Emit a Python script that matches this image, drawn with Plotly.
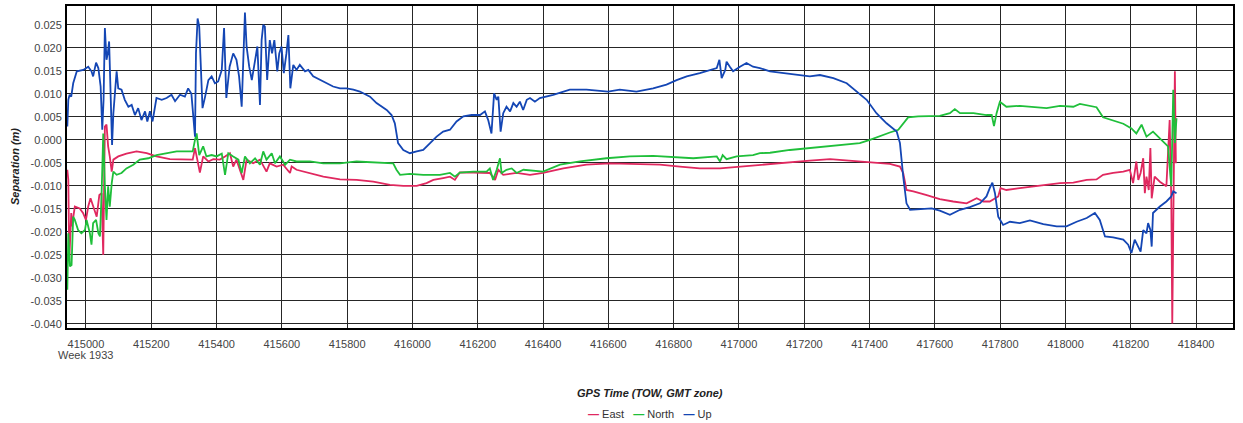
import plotly.graph_objects as go

# GPS time of week (s) and separation (m)
up_t = [414943, 414946, 414950, 414955, 414961, 414972, 414992, 415007, 415017, 415022,
        415031, 415038, 415045, 415050, 415054, 415058, 415063, 415067, 415071, 415075,
        415080, 415084, 415089, 415094, 415099, 415109, 415119, 415130, 415140, 415150,
        415160, 415170, 415181, 415188, 415196, 415204, 415216, 415232, 415247, 415262,
        415273, 415288, 415303, 415313, 415323, 415331, 415334, 415337, 415342, 415347,
        415352, 415357, 415365, 415375, 415385, 415395, 415405, 415416, 415423, 415430,
        415440, 415451, 415461, 415469, 415477, 415482, 415487, 415492, 415500, 415508,
        415516, 415525, 415533, 415538, 415543, 415548, 415555, 415563, 415570, 415577,
        415586, 415592, 415599, 415606, 415614, 415620, 415626, 415635, 415645, 415655,
        415671, 415681, 415696, 415717, 415737, 415757, 415778, 415798, 415819, 415839,
        415870, 415890, 415921, 415936, 415946, 415956, 415972, 415992, 416013, 416033,
        416054, 416074, 416094, 416115, 416135, 416156, 416181, 416207, 416222, 416232,
        416242, 416250, 416258, 416263, 416270, 416278, 416288, 416299, 416309, 416319,
        416329, 416339, 416350, 416360, 416375, 416390, 416431, 416482, 416533, 416599,
        416635, 416686, 416737, 416778, 416809, 416840, 416880, 416911, 416932, 416940,
        416947, 416958, 416962, 416972, 416982, 417003, 417023, 417043, 417064, 417095,
        417136, 417187, 417217, 417248, 417289, 417330, 417360, 417391, 417421, 417452,
        417483, 417493, 417503, 417513, 417524, 417554, 417590, 417615, 417646, 417677,
        417707, 417738, 417758, 417768, 417776, 417784, 417794, 417809, 417830, 417860,
        417891, 417932, 417973, 418003, 418034, 418065, 418090, 418105, 418121, 418146,
        418177, 418192, 418202, 418212, 418223, 418230, 418238, 418248, 418253, 418260,
        418264, 418268, 418289, 418309, 418324, 418330, 418340]
up_v = [0.0029, 0.0087, 0.0098, 0.0094, 0.0123, 0.0149, 0.0152, 0.0159, 0.0149, 0.0138,
        0.0168, 0.0156, 0.0116, 0.0022, 0.0087, 0.0243, 0.0174, 0.0188, 0.0214, 0.0087,
        -0.0011, 0.0058, 0.0112, 0.0149, 0.0112, 0.0109, 0.0087, 0.0072, 0.0076, 0.0054,
        0.0069, 0.0043, 0.0062, 0.0040, 0.0062, 0.0040, 0.0091, 0.0087, 0.0091, 0.0098,
        0.0084, 0.0098, 0.0094, 0.0112, 0.0100, 0.0036, 0.0007, 0.0188, 0.0264, 0.0246,
        0.0159, 0.0069, 0.0094, 0.0130, 0.0138, 0.0123, 0.0127, 0.0152, 0.0243, 0.0091,
        0.0159, 0.0188, 0.0174, 0.0138, 0.0072, 0.0159, 0.0277, 0.0203, 0.0159, 0.0130,
        0.0167, 0.0203, 0.0076, 0.0217, 0.0250, 0.0246, 0.0130, 0.0217, 0.0188, 0.0217,
        0.0149, 0.0188, 0.0203, 0.0145, 0.0188, 0.0228, 0.0112, 0.0163, 0.0152, 0.0163,
        0.0149, 0.0152, 0.0138, 0.0130, 0.0123, 0.0116, 0.0112, 0.0112, 0.0109, 0.0105,
        0.0094, 0.0080, 0.0065, 0.0054, 0.0036, -0.0007, -0.0022, -0.0029, -0.0025, -0.0022,
        -0.0007, 0.0007, 0.0018, 0.0022, 0.0040, 0.0051, 0.0054, 0.0054, 0.0062, 0.0043,
        0.0014, 0.0101, 0.0087, 0.0094, 0.0018, 0.0058, 0.0072, 0.0062, 0.0080, 0.0072,
        0.0083, 0.0065, 0.0087, 0.0091, 0.0083, 0.0091, 0.0098, 0.0109, 0.0109, 0.0105,
        0.0109, 0.0105, 0.0112, 0.0120, 0.0130, 0.0138, 0.0145, 0.0152, 0.0156, 0.0174,
        0.0134, 0.0152, 0.0170, 0.0159, 0.0149, 0.0159, 0.0167, 0.0159, 0.0156, 0.0149,
        0.0145, 0.0141, 0.0138, 0.0141, 0.0134, 0.0123, 0.0105, 0.0087, 0.0058, 0.0036,
        0.0018, -0.0007, -0.0080, -0.0138, -0.0152, -0.0151, -0.0149, -0.0154, -0.0163, -0.0152,
        -0.0146, -0.0138, -0.0123, -0.0105, -0.0093, -0.0116, -0.0167, -0.0185, -0.0178, -0.0181,
        -0.0175, -0.0183, -0.0188, -0.0188, -0.0178, -0.0170, -0.0159, -0.0174, -0.0210, -0.0212,
        -0.0217, -0.0228, -0.0246, -0.0217, -0.0232, -0.0243, -0.0196, -0.0203, -0.0181, -0.0196,
        -0.0232, -0.0159, -0.0145, -0.0134, -0.0123, -0.0112, -0.0116]

north_t = [414943, 414946, 414951, 414956, 414961, 414966, 414976, 414986, 414997, 415002,
           415012, 415017, 415022, 415031, 415038, 415043, 415048, 415053, 415058, 415063,
           415068, 415073, 415079, 415084, 415094, 415109, 415124, 415145, 415165, 415191,
           415216, 415247, 415278, 415308, 415327, 415334, 415339, 415347, 415359, 415369,
           415385, 415400, 415416, 415426, 415436, 415451, 415467, 415477, 415487, 415502,
           415518, 415533, 415543, 415553, 415569, 415579, 415594, 415610, 415625, 415645,
           415686, 415727, 415778, 415829, 415880, 415941, 415951, 415962, 415992, 416033,
           416084, 416115, 416130, 416145, 416186, 416227, 416237, 416247, 416258, 416268,
           416273, 416288, 416304, 416319, 416340, 416360, 416400, 416452, 416513, 416594,
           416666, 416737, 416799, 416860, 416932, 416942, 416950, 416962, 416993, 417043,
           417064, 417095, 417156, 417217, 417279, 417330, 417370, 417401, 417432, 417462,
           417488, 417503, 417518, 417549, 417615, 417646, 417661, 417677, 417718, 417758,
           417774, 417781, 417789, 417799, 417819, 417860, 417901, 417942, 417983, 418024,
           418044, 418075, 418095, 418115, 418146, 418177, 418202, 418217, 418233, 418248,
           418268, 418289, 418314, 418324, 418330, 418335, 418340]
north_v = [-0.0326, -0.0203, -0.0275, -0.0272, -0.0167, -0.0174, -0.0196, -0.0203, -0.0196, -0.0174,
           -0.0203, -0.0228, -0.0181, -0.0174, -0.0203, -0.0210, -0.0116, 0.0014, -0.0101, -0.0174,
           -0.0101, -0.0145, -0.0094, -0.0069, -0.0076, -0.0072, -0.0062, -0.0054, -0.0043, -0.0040,
           -0.0033, -0.0029, -0.0025, -0.0025, -0.0025, 0.0000, 0.0014, -0.0033, -0.0014, -0.0036,
           -0.0033, -0.0036, -0.0030, -0.0076, -0.0029, -0.0036, -0.0043, -0.0072, -0.0036, -0.0051,
           -0.0040, -0.0054, -0.0025, -0.0043, -0.0029, -0.0051, -0.0036, -0.0054, -0.0043, -0.0047,
           -0.0047, -0.0051, -0.0051, -0.0047, -0.0049, -0.0051, -0.0065, -0.0076, -0.0074, -0.0076,
           -0.0076, -0.0072, -0.0080, -0.0071, -0.0069, -0.0069, -0.0062, -0.0087, -0.0065, -0.0040,
           -0.0072, -0.0065, -0.0062, -0.0072, -0.0065, -0.0066, -0.0069, -0.0054, -0.0047, -0.0040,
           -0.0036, -0.0035, -0.0038, -0.0040, -0.0036, -0.0047, -0.0033, -0.0042, -0.0036, -0.0033,
           -0.0029, -0.0028, -0.0022, -0.0018, -0.0014, -0.0011, -0.0007, 0.0000, 0.0009, 0.0016,
           0.0022, 0.0036, 0.0049, 0.0051, 0.0052, 0.0058, 0.0067, 0.0058, 0.0058, 0.0054,
           0.0054, 0.0030, 0.0058, 0.0083, 0.0072, 0.0074, 0.0071, 0.0069, 0.0074, 0.0072,
           0.0078, 0.0074, 0.0071, 0.0049, 0.0042, 0.0035, 0.0025, 0.0014, 0.0033, 0.0007,
           0.0018, 0.0004, -0.0014, -0.0101, 0.0109, -0.0007, 0.0047]

east_t = [414943, 414946, 414949, 414955, 414957, 414966, 414981, 414991, 415000, 415007,
          415014, 415022, 415033, 415041, 415048, 415053, 415058, 415063, 415068, 415073,
          415079, 415084, 415099, 415124, 415155, 415186, 415216, 415257, 415298, 415327,
          415334, 415342, 415349, 415359, 415375, 415390, 415410, 415426, 415441, 415451,
          415461, 415482, 415492, 415512, 415533, 415553, 415563, 415584, 415604, 415625,
          415630, 415645, 415686, 415727, 415778, 415829, 415880, 415931, 415972, 416013,
          416043, 416064, 416094, 416115, 416130, 416145, 416186, 416237, 416253, 416263,
          416278, 416319, 416360, 416400, 416462, 416533, 416605, 416686, 416758, 416819,
          416880, 416942, 417003, 417064, 417095, 417156, 417217, 417279, 417340, 417401,
          417462, 417493, 417503, 417513, 417534, 417575, 417615, 417656, 417697, 417728,
          417748, 417768, 417779, 417794, 417801, 417819, 417860, 417901, 417942, 417983,
          418024, 418065, 418095, 418115, 418146, 418177, 418197, 418207, 418217, 418223,
          418230, 418238, 418243, 418248, 418255, 418260, 418264, 418273, 418289, 418309,
          418319, 418324, 418327, 418331, 418335, 418338]
east_v = [-0.0065, -0.0087, -0.0261, -0.0159, -0.0188, -0.0145, -0.0149, -0.0159, -0.0174, -0.0145,
          -0.0127, -0.0145, -0.0167, -0.0120, -0.0116, -0.0250, 0.0029, 0.0033, -0.0014, -0.0036,
          -0.0069, -0.0043, -0.0036, -0.0030, -0.0025, -0.0029, -0.0036, -0.0042, -0.0043, -0.0043,
          -0.0018, -0.0043, -0.0071, -0.0036, -0.0047, -0.0042, -0.0043, -0.0036, -0.0029, -0.0058,
          -0.0043, -0.0087, -0.0043, -0.0051, -0.0043, -0.0069, -0.0051, -0.0058, -0.0054, -0.0072,
          -0.0058, -0.0065, -0.0072, -0.0080, -0.0086, -0.0087, -0.0091, -0.0098, -0.0100, -0.0100,
          -0.0094, -0.0087, -0.0083, -0.0080, -0.0087, -0.0071, -0.0071, -0.0072, -0.0087, -0.0065,
          -0.0076, -0.0072, -0.0076, -0.0072, -0.0062, -0.0054, -0.0051, -0.0052, -0.0054, -0.0058,
          -0.0062, -0.0062, -0.0058, -0.0054, -0.0052, -0.0049, -0.0045, -0.0042, -0.0045, -0.0049,
          -0.0052, -0.0058, -0.0072, -0.0109, -0.0112, -0.0120, -0.0129, -0.0134, -0.0138, -0.0127,
          -0.0134, -0.0134, -0.0129, -0.0123, -0.0105, -0.0109, -0.0105, -0.0101, -0.0098, -0.0094,
          -0.0093, -0.0087, -0.0086, -0.0076, -0.0072, -0.0069, -0.0065, -0.0094, -0.0047, -0.0087,
          -0.0072, -0.0040, -0.0116, -0.0080, -0.0109, -0.0018, -0.0127, -0.0080, -0.0091, -0.0101,
          0.0043, -0.0130, -0.0399, -0.0058, 0.0149, -0.0051]

x_ticks = [415000, 415200, 415400, 415600, 415800, 416000, 416200, 416400, 416600,
           416800, 417000, 417200, 417400, 417600, 417800, 418000, 418200, 418400]
x_tick_text = [str(v) for v in x_ticks]
week_label = "Week 1933"
y_ticks = [-0.040, -0.035, -0.030, -0.025, -0.020, -0.015, -0.010, -0.005,
           0.000, 0.005, 0.010, 0.015, 0.020, 0.025]
y_tick_text = ["%.3f" % v for v in y_ticks]

series = [("East", east_t, east_v, "#e0285f"),
          ("North", north_t, north_v, "#1fbf3a"),
          ("Up", up_t, up_v, "#1446b4")]

fig = go.Figure()
for name, t, v, color in series:
    fig.add_trace(go.Scatter(x=t, y=v, mode="lines", name=name,
                             line=dict(color=color, width=1.8)))

axis_style = dict(showgrid=True, gridcolor="#262626", gridwidth=1.4, zeroline=False,
                  showline=True, linecolor="black", linewidth=2, mirror=True, ticks="",
                  automargin=False, tickfont=dict(size=11, color="#444444"))
fig.update_xaxes(range=[414942, 418513], tickvals=x_ticks, ticktext=x_tick_text,
                 ticklabelstandoff=5, **axis_style)
fig.update_yaxes(range=[-0.0409, 0.0291], tickvals=y_ticks, ticktext=y_tick_text,
                 ticklabelstandoff=1, **axis_style)

# legend drawn as a text line so the short dash markers match the original
legend_text = "   ".join(
    "<span style='color:%s'><b>—</b></span> %s" % (color, name) for name, _, _, color in series)

fig.update_layout(
    width=1243, height=423,
    margin=dict(l=67, r=10, t=6, b=95),
    plot_bgcolor="white", paper_bgcolor="white",
    font=dict(family="Liberation Sans, Arial, sans-serif", size=11, color="#333333"),
    showlegend=False,
    annotations=[
        dict(text=week_label, xref="x", yref="paper", x=x_ticks[0], y=0,
             yanchor="middle", yshift=-27, showarrow=False,
             font=dict(size=11, color="#444444")),
        dict(text="<b><i>GPS Time (TOW, GMT zone)</i></b>", xref="paper", yref="paper",
             x=0.5, y=0, yanchor="middle", yshift=-65, showarrow=False,
             font=dict(size=11, color="#222222")),
        dict(text=legend_text, xref="paper", yref="paper",
             x=0.5, y=0, yanchor="middle", yshift=-86, showarrow=False,
             font=dict(size=11, color="#333333")),
        dict(text="<b><i>Separation (m)</i></b>", xref="paper", yref="paper",
             x=0, y=0.5, xanchor="center", yanchor="middle", xshift=-52, textangle=-90,
             showarrow=False, font=dict(size=11, color="#222222")),
    ],
)

# drop the browser's default body margin so the figure sits at the page origin
fig.write_html("out.html", config={"displayModeBar": False},
               post_script="document.body.style.margin = '0';")
